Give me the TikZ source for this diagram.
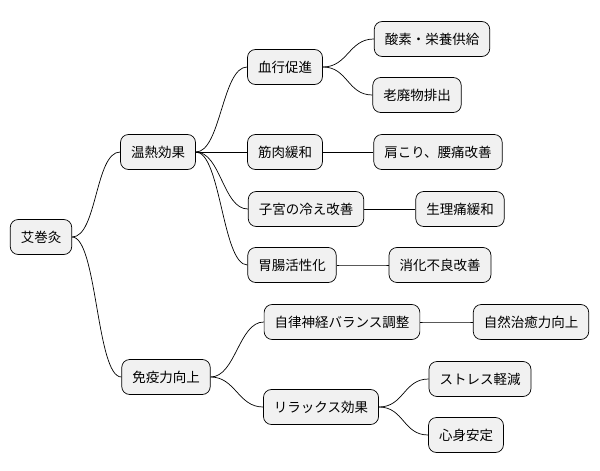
\documentclass[tikz,border=0pt]{standalone}
\usepackage{fontspec}
\setmainfont{Noto Sans CJK JP}
\begin{document}
\begin{tikzpicture}[x=1pt,y=-1pt,
  n/.style={draw=black,line width=0.7pt,fill={rgb,255:red,241;green,241;blue,241},rounded corners=8pt,minimum height=35pt,inner xsep=10.5pt,font=\fontsize{13.5}{15}\selectfont},
  e/.style={line width=0.7pt}]
\useasboundingbox (0,0) rectangle (600,471);
\node[n] (r) at (41,237) {艾巻灸};
\node[n] (a) at (158,152) {温熱効果};
\node[n] (b) at (166,377) {免疫力向上};
\node[n] (a1) at (285,67) {血行促進};
\node[n] (a2) at (285,152) {筋肉緩和};
\node[n] (a3) at (306,209) {子宮の冷え改善};
\node[n] (a4) at (292,265) {胃腸活性化};
\node[n] (b1) at (342,322) {自律神経バランス調整};
\node[n] (b2) at (321,407) {リラックス効果};
\node[n] (a11) at (432,39) {酸素・栄養供給};
\node[n] (a12) at (417,95) {老廃物排出};
\node[n] (a21) at (438,152) {肩こり、腰痛改善};
\node[n] (a31) at (460,209) {生理痛緩和};
\node[n] (a41) at (440,265) {消化不良改善};
\node[n] (b11) at (531,322) {自然治癒力向上};
\node[n] (b21) at (480,379) {ストレス軽減};
\node[n] (b22) at (466,435) {心身安定};
\foreach \p/\c in {r/a,r/b,a/a1,a/a2,a/a3,a/a4,b/b1,b/b2,a1/a11,a1/a12,a2/a21,a3/a31,a4/a41,b1/b11,b2/b21,b2/b22}
  \draw[e] (\p.east) .. controls +(25,0) and +(-25,0) .. (\c.west);
\end{tikzpicture}
\end{document}
